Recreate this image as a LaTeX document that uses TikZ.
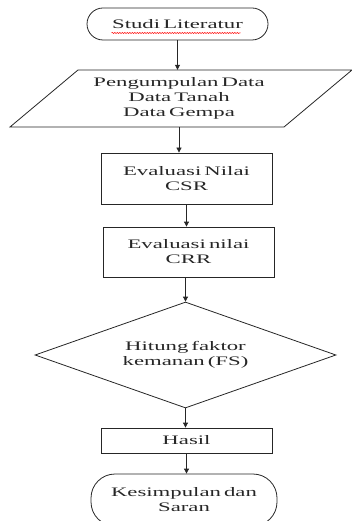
\documentclass[tikz,border=0pt]{standalone}
\usepackage{fontspec}
\setmainfont{Liberation Serif}[FakeStretch=1.75,WordSpace=0.55]
\usetikzlibrary{shapes.geometric,arrows.meta,decorations.pathmorphing}

\begin{document}
\begin{tikzpicture}[x=1pt,y=-1pt,
    every node/.style={font=\fontsize{13}{15}\selectfont},
    flowline/.style={color = black!85, line width = 0.8pt},
    flowarrow/.style={flowline, -{Triangle[length=5pt,width=5pt]}},
    terminal/.style={flowline, draw, rounded corners = 16pt, align = center, inner sep = 0pt},
    process/.style={flowline, draw, align = center, inner sep = 0pt},
    decision/.style={flowline, draw, diamond, aspect = 2.84, align = center, inner sep = 0pt}]
    \useasboundingbox (0,0) rectangle (351,521);

    \node[terminal, minimum width = 181pt, minimum height = 32pt] (studi) at (177.5,24) {Studi Literatur};
    \draw[red, line width = 0.5pt, decorate, decoration={snake, amplitude = 0.6pt, segment length = 2.5pt}]
      ([shift={(-66,9)}]studi.center) -- ([shift={(63,9)}]studi.center);

    \node[color = black!85, minimum height = 57pt, align = center, inner sep = 0pt] (data) at (179,98.5)
      {Pengumpulan Data\\Data Tanah\\Data Gempa};
    \draw[flowline] (78,70) -- (352,70) -- (284,127) -- (10,127) -- cycle;

    \node[process, minimum width = 171pt, minimum height = 51pt] (csr) at (186.5,178.5) {Evaluasi Nilai\\CSR};
    \node[process, minimum width = 171pt, minimum height = 50pt] (crr) at (188.5,252) {Evaluasi nilai\\CRR};
    \node[decision, minimum width = 301pt, minimum height = 106pt] (fs) at (185.5,355) {Hitung faktor\\kemanan (FS)};
    \node[process, minimum width = 171pt, minimum height = 25pt] (hasil) at (186.5,440.5) {Hasil};
    \node[terminal, rounded corners = 24pt, minimum width = 186pt, minimum height = 52pt] (saran) at (184,500)
      {Kesimpulan dan\\Saran};

    \draw[flowarrow] (studi.south) -- (studi.south |- data.north);
    \draw[flowarrow] (data.south) -- (data.south |- csr.north);
    \draw[flowarrow] (csr.south) -- (csr.south |- crr.north);
    \draw[flowarrow] (fs.north |- crr.south) -- (fs.north);
    \draw[flowarrow] (fs.south) -- (fs.south |- hasil.north);
    \draw[flowarrow] (hasil.south) -- (hasil.south |- saran.north);
\end{tikzpicture}
\end{document}
